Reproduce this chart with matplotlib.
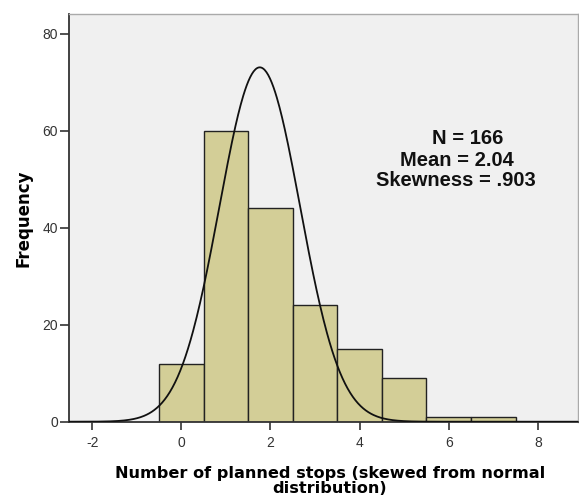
import numpy as np
import matplotlib
matplotlib.use("Agg")
import matplotlib.pyplot as plt

# Data
bin_centers = [0, 1, 2, 3, 4, 5, 6, 7]
frequencies = [12, 60, 44, 24, 15, 9, 1, 1]
n_total = 166
curve_mean = 1.76
curve_sd = 0.906
stats_lines = ["N = 166", "Mean = 2.04", "Skewness = .903"]
x_ticks = [-2, 0, 2, 4, 6, 8]
y_ticks = [0, 20, 40, 60, 80]

W, H = 579, 499
fig = plt.figure(figsize=(W / 100, H / 100), dpi=100)
fig.patch.set_facecolor("white")
ax = fig.add_axes([69 / W, (H - 421.7) / H, (578 - 69) / W, (421.7 - 14) / H])
ax.set_facecolor("#F0F0F0")

ax.bar(bin_centers, frequencies, width=1.0, color="#D3CE97", edgecolor="#222222",
       linewidth=1.0, zorder=2)

xs = np.linspace(-2.6, 9, 600)
ys = n_total * 1.0 / (curve_sd * np.sqrt(2 * np.pi)) * np.exp(-0.5 * ((xs - curve_mean) / curve_sd) ** 2)
ax.plot(xs, ys, color="#111111", linewidth=1.3, zorder=3)

ax.set_xlim(-2.52, 8.9)
ax.set_ylim(0, 84.1)
ax.set_xticks(x_ticks)
ax.set_yticks(y_ticks)
ax.set_xticklabels([str(t) for t in x_ticks], family="Liberation Sans", fontsize=10, color="#333333")
ax.set_yticklabels([str(t) for t in y_ticks], family="Liberation Sans", fontsize=10, color="#333333")
ax.tick_params(axis="x", length=6, width=1.2, color="#333333", pad=4)
ax.tick_params(axis="y", length=6.5, width=1.2, color="#333333", pad=1.5)

for s in ["left", "bottom"]:
    ax.spines[s].set_color("#333333")
    ax.spines[s].set_linewidth(1.3)
for s in ["top", "right"]:
    ax.spines[s].set_color("#AAAAAA")
    ax.spines[s].set_linewidth(1.0)

fig.text(23 / W, 1 - 218 / H, "Frequency", rotation=90, ha="center", va="center",
         family="DejaVu Sans", fontweight="bold", fontsize=12)
fig.text(330 / W, 1 - 481 / H, "Number of planned stops (skewed from normal\ndistribution)",
         ha="center", va="center", family="DejaVu Sans", fontweight="bold", fontsize=11.6,
         linespacing=0.95)

line_x = [467.5, 456.7, 455.8]
line_y = [138.8, 160, 180.8]
for txt, lx, ly in zip(stats_lines, line_x, line_y):
    fig.text(lx / W, 1 - ly / H, txt, ha="center", va="center",
             family="Liberation Sans", fontweight="bold", fontsize=14.5, color="#111111")

fig.savefig("out.png", dpi=100)
